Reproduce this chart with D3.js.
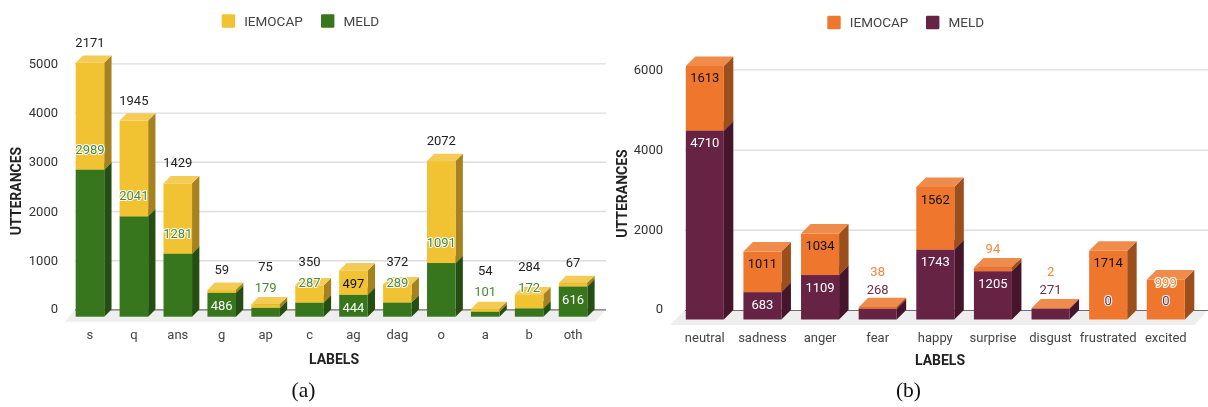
<!DOCTYPE html>
<html><head><meta charset="utf-8">
<script src="https://cdn.jsdelivr.net/npm/d3@7/dist/d3.min.js"></script>
<style>
html,body{margin:0;padding:0;background:#fff}
svg{display:block;filter:blur(0.35px)}
text{font-family:Roboto,sans-serif}
</style></head><body>
<svg id="chart" width="1208" height="407"></svg>
<script>
// ---- data ----
const seriesNames = ["IEMOCAP", "MELD"];
const categoriesA = ["s","q","ans","g","ap","c","ag","dag","o","a","b","oth"];
const meldA = [2989,2041,1281,486,179,287,444,289,1091,101,172,616];
const iemocapA = [2171,1945,1429,59,75,350,497,372,2072,54,284,67];
const ticksA = [0,1000,2000,3000,4000,5000];
const meldInsideA = ["g","ag","oth"];
const iemocapInsideA = ["ag"];

const categoriesB = ["neutral","sadness","anger","fear","happy","surprise","disgust","frustrated","excited"];
const meldB = [4710,683,1109,268,1743,1205,271,0,0];
const iemocapB = [1613,1011,1034,38,1562,94,2,1714,999];
const ticksB = [0,2000,4000,6000];
const meldInsideB = ["neutral","sadness","anger","happy","surprise"];
const iemocapInsideB = ["neutral","sadness","anger","happy","frustrated","excited"];

const svg = d3.select("#chart");

function panel(cfg){
  const g = svg.append("g");
  const x = d3.scaleBand().domain(cfg.cats).range(cfg.xr).paddingInner(cfg.pad).paddingOuter(cfg.pad/2);
  const y = d3.scaleLinear().domain([0,1000]).range([cfg.y0, cfg.y0 - cfg.pxPer1000]);
  const d = cfg.depth;
  const front = v => y(v) + d;

  // floor
  g.append("polygon").attr("fill","#eeeeee").attr("points",[
    [cfg.floor[0], cfg.y0+d+cfg.floorExtra],[cfg.xr[1], cfg.y0+d+cfg.floorExtra],
    [cfg.right, cfg.y0],[cfg.floor[1], cfg.y0]].join(" "));

  // grid and value axis
  const ya = g.append("g").attr("transform",`translate(${cfg.floor[1]},0)`)
    .call(d3.axisLeft(y).tickValues(cfg.ticks).tickFormat(d3.format("d"))
      .tickSizeInner(-(cfg.right-cfg.floor[1])).tickSizeOuter(0).tickPadding(cfg.floor[1]-cfg.tickEnd));
  ya.select(".domain").remove();
  ya.selectAll("line").attr("stroke",v=>v===0?"#6e6e6e":"#dddddd").attr("stroke-width",v=>v===0?1.2:1.4);
  ya.selectAll("text").attr("font-size",13).attr("fill","#333").attr("font-family","Roboto")
    .attr("dy",v=>v===0?"0.22em":"0.32em");

  // category axis
  const xa = g.append("g").attr("transform",`translate(0,${cfg.catY})`)
    .call(d3.axisBottom(x).tickSize(0).tickPadding(0));
  xa.select(".domain").remove();
  xa.selectAll("text").attr("font-size",13).attr("fill","#444").attr("font-family","Roboto").attr("dy","0.3em");

  // stacked 3D bars
  const rows = cfg.cats.map((c,i)=>({c,m:cfg.meld[i],t:cfg.iem[i]}));
  const w = x.bandwidth();
  const seg = (c,lo,hi,col)=>{
    const L = x(c), R = L+w, yt = front(hi), yb = front(lo);
    if(hi===lo) return;
    g.append("polygon").attr("fill",col.side).attr("points",[[R,yt],[R+d,yt-d],[R+d,yb-d],[R,yb]].join(" "));
    g.append("rect").attr("x",L).attr("y",yt).attr("width",w).attr("height",yb-yt).attr("fill",col.front);
    g.append("polygon").attr("fill",col.top).attr("points",[[L,yt],[L+d,yt-d],[R+d,yt-d],[R,yt]].join(" "));
  };
  rows.forEach(r=>{
    seg(r.c,0,r.m,cfg.colM);
    seg(r.c,r.m,r.m+r.t,cfg.colT);
  });

  // value labels
  const label = (cx,yy,txt,fill,halo)=>{
    const t = g.append("text").attr("x",cx).attr("y",yy).attr("dy","0.35em").attr("text-anchor","middle")
      .attr("font-size",13).attr("fill",fill).text(txt);
    if(halo) t.attr("stroke","#fff").attr("stroke-width",2.2).attr("stroke-linejoin","round").attr("paint-order","stroke");
  };
  rows.forEach(r=>{
    const cx = x(r.c)+w/2;
    const mIn = cfg.mIn.includes(r.c), tIn = cfg.tIn.includes(r.c);
    const my = front(r.m) + (mIn ? cfg.inOff : -cfg.outOff);
    let ty = front(r.m+r.t) + (tIn ? cfg.inOff : -cfg.outOff);
    ty = Math.min(ty, my - cfg.gap);
    label(cx,my,r.m, mIn?"#fff":cfg.colM.text, !mIn);
    const tPlain = tIn && !cfg.tHalo.includes(r.c);
    label(cx,ty,r.t, tPlain?"#111":cfg.topText, cfg.tHalo.includes(r.c));
  });

  // axis titles
  g.append("text").attr("x",cfg.titleX[0]).attr("y",cfg.titleX[1]).attr("dy","0.35em").attr("text-anchor","middle")
    .attr("font-size",14).attr("font-weight",700).attr("fill","#222").text("LABELS");
  g.append("text").attr("transform",`translate(${cfg.titleY[0]},${cfg.titleY[1]}) rotate(-90)`).attr("dy","0.35em")
    .attr("text-anchor","middle").attr("font-size",14).attr("font-weight",700).attr("fill","#222").text("UTTERANCES");

  // legend
  const cols = [cfg.colT, cfg.colM];
  seriesNames.forEach((n,i)=>{
    g.append("rect").attr("x",cfg.legX[i]).attr("y",cfg.legY-6.7).attr("width",13.4).attr("height",13.4).attr("rx",1.2).attr("fill",cols[i].front);
    g.append("text").attr("x",cfg.legX[i]+22.5).attr("y",cfg.legY).attr("dy","0.35em").attr("font-size",13.5).attr("fill","#444").text(n);
  });

  // caption
  g.append("text").attr("x",cfg.cap[0]).attr("y",cfg.cap[1]).attr("text-anchor","middle")
    .style("font-family","'Liberation Serif',serif").attr("font-size",21.5).attr("fill","#111").text(cfg.capText);
}

panel({
  cats:categoriesA, meld:meldA, iem:iemocapA, ticks:ticksA, mIn:meldInsideA, tIn:iemocapInsideA, tHalo:[],
  xr:[68,595], pad:0.35, y0:309.4, pxPer1000:49.2, depth:7.3, floor:[65,75], floorExtra:5, right:606, tickEnd:58,
  catY:335, inOff:13, outOff:20.5, gap:21,
  colT:{front:"#f1c232",side:"#a5821f",top:"#f3cb55"},
  colM:{front:"#38761d",side:"#244e12",top:"#4d8a33",text:"#4a8a34"}, topText:"#222",
  titleX:[334,359], titleY:[16,191], legX:[221.7,321], legY:21, cap:[303.5,396.5], capText:"(a)"
});
panel({
  cats:categoriesB, meld:meldB, iem:iemocapB, ticks:ticksB, mIn:meldInsideB, tIn:iemocapInsideB, tHalo:["excited"],
  xr:[676,1194.6], pad:0.34, y0:310, pxPer1000:40.1, depth:9.5, floor:[670,685], floorExtra:5.5, right:1208, tickEnd:663,
  catY:337.7, inOff:12, outOff:19, gap:18,
  colT:{front:"#ee762d",side:"#9c4e1d",top:"#f08c4b"},
  colM:{front:"#672343",side:"#45152c",top:"#7a3456",text:"#6f2c4e"}, topText:"#f5853a",
  titleX:[940,360.5], titleY:[621.7,193.5], legX:[827.3,926], legY:22.5, cap:[908.5,396.5], capText:"(b)"
});
</script>
</body></html>
